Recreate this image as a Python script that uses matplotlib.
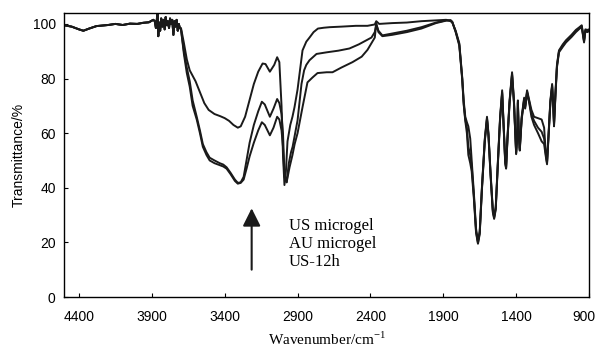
import numpy as np
import matplotlib
matplotlib.use('Agg')
import matplotlib.pyplot as plt
from matplotlib.transforms import ScaledTranslation

# shared part of the three spectra (4500 - 3700 cm-1, noisy region)
wn_left = [4500, 4450, 4400, 4370, 4330, 4280, 4200, 4150, 4100, 4050, 4000, 3960, 3920, 3890,
           3880, 3872, 3865, 3860, 3856, 3850, 3843, 3836, 3828, 3820, 3812, 3805, 3797, 3790,
           3782, 3775, 3768, 3760, 3752, 3745, 3738, 3730, 3722, 3715, 3708]
t_left = [99.5, 99.0, 98.0, 97.5, 98.3, 99.2, 99.6, 100.0, 99.6, 100.1, 100.0, 100.4, 100.6, 101.5,
          101, 98.5, 102, 106, 95.5, 100.5, 97.5, 102, 99, 101.5, 98, 102.5, 99.5, 101,
          98.5, 102, 100, 101.5, 96, 101, 99, 101.5, 97.5, 100, 98.5]

# 3700 - 1880 cm-1, each sample
wn_mid_us = [3700, 3680, 3660, 3640, 3620, 3600, 3570, 3540, 3510, 3470, 3430, 3400, 3370, 3340,
             3310, 3290, 3260, 3230, 3200, 3170, 3140, 3120, 3090, 3060, 3040, 3025, 3010, 3000,
             2990, 2980, 2969, 2950, 2935, 2921, 2900, 2886, 2866, 2840, 2818, 2790, 2760, 2720,
             2680, 2600, 2500, 2420, 2370, 2360, 2340, 2250, 2150, 2050, 1950, 1880]
t_mid_us = [98.5, 93, 87, 83, 81, 79, 75, 71, 68.5, 67, 66.2, 65.5, 64.5, 63,
            62, 62.5, 66, 72, 78, 82.5, 85.5, 85.3, 82.5, 85, 87.8, 86, 70, 52,
            41, 46, 57, 63, 66, 69.5, 76, 82, 90.3, 93.5, 95, 97, 98.3, 98.6,
            98.8, 99, 99.3, 99.3, 99.8, 101, 100, 100.3, 100.5, 101, 101.3, 101.5]

wn_mid_au = [3700, 3680, 3660, 3640, 3620, 3592, 3570, 3550, 3525, 3503, 3470, 3434, 3410, 3387,
             3360, 3330, 3310, 3290, 3270, 3250, 3229, 3200, 3170, 3145, 3125, 3090, 3065, 3040,
             3025, 3010, 3000, 2990, 2975, 2960, 2945, 2934, 2920, 2900, 2885, 2873, 2855, 2840,
             2818, 2770, 2700, 2620, 2544, 2480, 2420, 2393, 2370, 2360, 2345, 2318, 2250, 2150,
             2050, 1950, 1880]
t_mid_au = [98, 90, 84, 79, 72, 66, 61, 56, 53, 51, 50, 49, 48.5, 47.5,
            45.5, 43, 41.8, 42, 44, 50, 56.5, 63, 68, 71.5, 70.5, 66, 69, 72.5,
            71, 67, 60, 45, 42, 49, 53, 55, 59, 64.7, 72, 78, 83, 85,
            86.7, 89, 89.6, 90.2, 91, 92.5, 94.2, 95, 97, 100, 97.5, 95.8, 96.5, 97.5,
            98.8, 100.5, 101.3]

wn_mid_12h = [3700, 3680, 3660, 3640, 3620, 3592, 3570, 3550, 3525, 3503, 3470, 3434, 3410, 3387,
              3360, 3330, 3310, 3290, 3270, 3250, 3229, 3200, 3170, 3145, 3125, 3090, 3065, 3040,
              3025, 3010, 3000, 2990, 2975, 2955, 2935, 2920, 2900, 2866, 2832, 2797, 2763, 2700,
              2660, 2600, 2523, 2460, 2420, 2393, 2370, 2360, 2345, 2318, 2250, 2150, 2050, 1950,
              1880]
t_mid_12h = [98, 89, 82, 77, 70, 65, 60, 55, 52, 50, 49, 48.3, 47.8, 47,
             45, 42.5, 41.5, 41.8, 43, 47, 51.5, 56.5, 61, 64, 63, 59.2, 62, 66,
             65, 61, 55, 44, 42, 47.5, 52, 56, 60, 69.5, 78.6, 80.4, 82, 82.3,
             82.3, 84, 86, 88, 90.5, 92.9, 95, 100, 97, 95.5, 96, 97, 98.3, 100.3,
             101.2]

# fingerprint region 1850 - 900 cm-1
wn_right = [1850, 1838, 1815, 1790, 1770, 1760, 1749, 1738, 1728, 1715, 1705, 1690, 1675, 1662,
            1650, 1635, 1615, 1600, 1590, 1575, 1560, 1551, 1540, 1525, 1510, 1496, 1485, 1475,
            1469, 1460, 1445, 1428, 1415, 1400, 1392, 1388, 1382, 1375, 1362, 1345, 1338, 1325,
            1310, 1295, 1277, 1250, 1225, 1208, 1198, 1188, 1175, 1165, 1153, 1145, 1140, 1130,
            1120, 1106, 1080, 1058, 1020, 990, 968, 950, 940, 934, 925, 910, 900]
t_right_us = [101, 100.5, 97.5, 92.9, 80.4, 72, 66, 64, 62.5, 58, 50, 38, 25, 20.5,
              24, 40, 58, 66, 60, 45, 32, 29.5, 33, 50, 66, 75.7, 62, 50,
              47.5, 58, 72, 82.3, 72, 53, 60, 72, 60, 54.5, 66, 73, 70, 75.7,
              72, 68.5, 66, 65.5, 65, 62, 54, 49.5, 62, 72, 78, 70, 63.5, 75,
              85, 90.3, 92.5, 94, 96, 97.8, 98.7, 99.5, 96, 94, 98, 97.8, 98]
t_right_au = [101.2, 100.6, 97.2, 92.5, 80, 71, 65, 62, 55, 52, 48, 37, 24, 19.8,
              23.5, 39.5, 57.5, 65.5, 59.5, 44.5, 31.5, 29, 32.5, 49.5, 65.5, 75, 61.5, 49.5,
              47.2, 57.5, 71.5, 81.8, 71.5, 52.6, 59.5, 71.5, 59.5, 54, 65.5, 72.5, 69.5, 75.2,
              71.5, 67, 64.5, 62, 60.5, 58, 53, 49, 61.5, 71.5, 77.5, 69.5, 63, 74.5,
              84.5, 90, 92, 93.6, 95.6, 97.4, 98.4, 99.2, 95.6, 93.6, 97.6, 97.4, 97.7]
t_right_12h = [101.4, 100.8, 97, 92, 79.5, 70.5, 64.5, 60, 52, 49, 46, 36, 23.5, 19.5,
               23, 39, 57, 65, 59, 44, 31, 28.6, 32, 49, 65, 74.5, 61, 49,
               47, 57, 71, 81.3, 71, 52.3, 59, 71, 59, 53.6, 65, 72, 69, 74.8,
               71, 66, 63, 60, 57, 56, 52, 48.6, 61, 71, 77, 69, 62.5, 74,
               84, 89.6, 91.6, 93.2, 95.2, 97, 98.1, 98.9, 95.2, 93.2, 97.2, 97, 97.4]

sample_names = ['US microgel', 'AU microgel', 'US-12h']
x_ticks = [4400, 3900, 3400, 2900, 2400, 1900, 1400, 900]
y_ticks = [0, 20, 40, 60, 80, 100]

spectra = [
    (wn_left + wn_mid_us + wn_right, t_left + t_mid_us + t_right_us),
    (wn_left + wn_mid_au + wn_right, t_left + t_mid_au + t_right_au),
    (wn_left + wn_mid_12h + wn_right, t_left + t_mid_12h + t_right_12h),
]

plt.rcParams['font.family'] = ['Liberation Sans', 'DejaVu Sans']

fig = plt.figure(figsize=(5.99, 3.5), dpi=100)
ax = fig.add_axes([0.1068, 0.1514, 0.8765, 0.8115])

for (wn, t), name in zip(spectra, sample_names):
    ax.plot(wn, t, color='#1a1a1a', lw=1.4, label=name)

ax.set_xlim(4503, 900)
ax.set_ylim(0, 104)
ax.set_xticks(x_ticks)
ax.set_yticks(y_ticks)
ax.tick_params(direction='in', length=3, width=0.8, labelsize=10, pad=9)
ax.tick_params(axis='y', pad=6)
for s in ax.spines.values():
    s.set_linewidth(1.0)

# keep the last x label inside the picture
last = ax.get_xticklabels()[-1]
last.set_transform(last.get_transform() + ScaledTranslation(-4 / 72, 0, fig.dpi_scale_trans))

ax.set_ylabel('Transmittance/%', fontsize=10, labelpad=5)
ax.set_xlabel('Wavenumber/cm$^{\\mathregular{-1}}$', fontsize=11,
              family='Liberation Serif', labelpad=5)

# arrow and sample list
ax.annotate('', xy=(3215, 33.5), xytext=(3215, 9),
            arrowprops=dict(arrowstyle='-|>,head_length=0.6,head_width=0.3',
                            color='#1a1a1a', lw=1.5, mutation_scale=18))
ax.text(2962, 28.8, '\n'.join(sample_names), fontsize=12, family='Liberation Serif',
        va='top', ha='left', linespacing=1.15)

fig.savefig('out.png', dpi=100)
